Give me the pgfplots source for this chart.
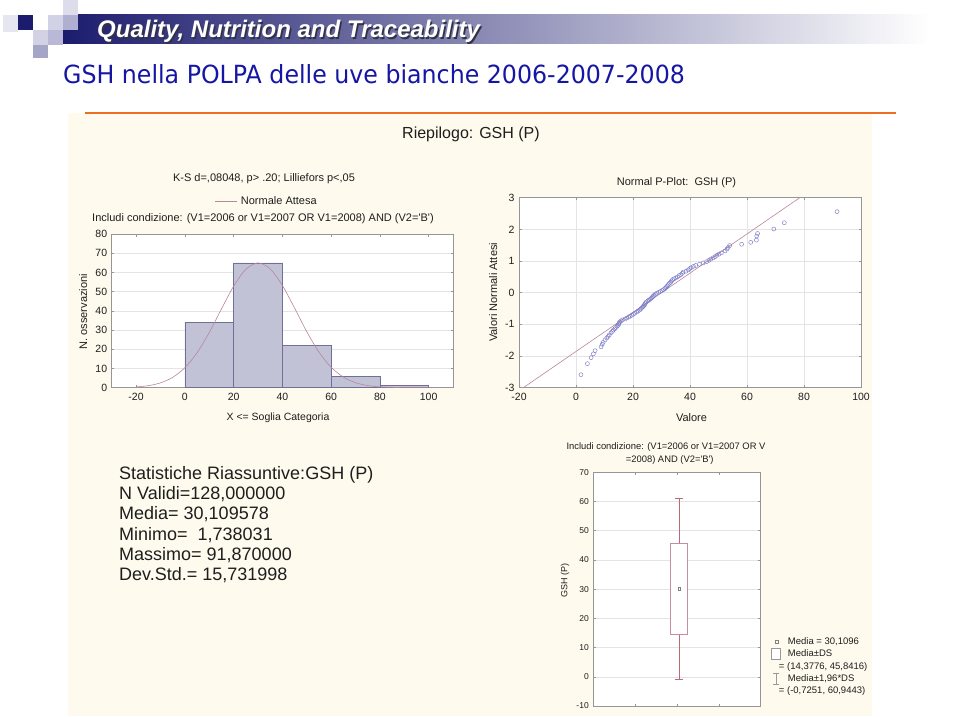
\documentclass[border=0pt]{standalone}
\usepackage{pgfplots}
\pgfplotsset{compat=1.18}
\usepackage{fontspec}
\setmainfont{Liberation Sans}
\newfontfamily\titlefont{DejaVu Sans}
\definecolor{cream}{RGB}{255,250,238}
\definecolor{navy}{RGB}{28,28,110}
\definecolor{bannermid}{RGB}{184,184,206}
\definecolor{sqA}{RGB}{230,230,240}
\definecolor{sqB}{RGB}{210,210,228}
\definecolor{sqC}{RGB}{165,165,200}
\definecolor{sqD}{RGB}{210,210,230}
\definecolor{sqE}{RGB}{185,185,215}
\definecolor{sqF}{RGB}{220,220,235}
\definecolor{sqG}{RGB}{175,175,210}
\definecolor{shadowcol}{RGB}{50,50,70}
\definecolor{titleblue}{RGB}{22,22,165}
\definecolor{orangeline}{RGB}{235,110,35}
\definecolor{barfill}{RGB}{194,194,214}
\definecolor{baredge}{RGB}{112,112,150}
\definecolor{curve}{RGB}{185,135,155}
\definecolor{ptcol}{RGB}{125,125,200}
\definecolor{boxcol}{RGB}{200,140,160}
\definecolor{whiskcol}{RGB}{185,105,120}
\definecolor{axcol}{RGB}{150,150,150}
\definecolor{gridcol}{RGB}{228,228,228}
\definecolor{txt}{RGB}{30,30,30}

\pgfplotsset{
  statstyle/.style={
    scale only axis,
    anchor=south west,
    axis background/.style={fill=white},
    axis line style={draw=axcol, line width=0.6pt},
    tick style={draw=axcol, line width=0.5pt},
    major tick length=2.5pt,
    tick align=inside,
    grid style={draw=gridcol, line width=0.5pt},
    /pgf/number format/assume math mode=true,
    ticklabel style={text=txt},
  }
}

\begin{document}
\begin{tikzpicture}[x=1pt,y=1pt]
% page
\fill[white] (0,0) rectangle (960,716);
% banner
\shade[left color=navy, middle color=bannermid, right color=white] (63,672) rectangle (930,701);
% decoration squares
\fill[sqA] (3,684) rectangle (18,701);
\fill[navy] (18,686) rectangle (33,701);
\fill[sqB] (33,671) rectangle (48,686);
\fill[sqC] (33,658) rectangle (48,671);
\fill[sqD] (48,686) rectangle (63,701);
\fill[sqE] (48,671) rectangle (63,686);
\fill[sqF] (63,701) rectangle (78,716);
\fill[sqG] (63,686) rectangle (78,701);
% banner text
\node[anchor=west, text=shadowcol, font=\fontsize{24}{28}\selectfont\bfseries\itshape, inner sep=0pt] at (98.5,683) {Quality, Nutrition and Traceability};
\node[anchor=west, text=white, font=\fontsize{24}{28}\selectfont\bfseries\itshape, inner sep=0pt] at (97,684.5) {Quality, Nutrition and Traceability};
% title
\node[anchor=base west, text=titleblue, inner sep=0pt] at (63,632.7) {\scalebox{0.948}[1]{\titlefont\fontsize{25}{30}\selectfont GSH nella POLPA delle uve bianche 2006-2007-2008}};
% cream panel
\fill[cream] (68,0) rectangle (872,603);
\draw[orangeline, line width=2pt] (85,603.3) -- (896,603.3);
\node[text=txt, font=\fontsize{16}{19}\selectfont] at (471,582) {Riepilogo: GSH (P)};

% ---------------- histogram ----------------
\begin{axis}[statstyle, at={(111.7pt,328.3pt)}, width=341.3pt, height=153.7pt,
  xmin=-30, xmax=110, ymin=0, ymax=80,
  xtick={-20,0,20,40,60,80,100}, ytick={0,10,20,30,40,50,60,70,80},
  ymajorgrids,
  ticklabel style={font=\fontsize{10.5}{12}\selectfont},
  xticklabel style={yshift=-2pt}, yticklabel style={xshift=-1pt}]
\addplot[ybar interval, fill=barfill, draw=baredge, line width=0.6pt] coordinates {(0,34) (20,65) (40,22) (60,6) (80,1) (100,1)};
\addplot[curve, smooth, line width=0.6pt] coordinates {
(-20,0.41) (-15,1.06) (-10,2.52) (-5,5.38) (0,10.39) (5,18.16) (10,28.69) (15,40.93) (20,52.81) (25,61.59) (30,64.93) (35,61.87) (40,53.28) (45,41.48) (50,29.19) (55,18.57) (60,10.67) (65,5.55) (70,2.61) (75,1.11) (80,0.43) (85,0.15) (90,0.05) (95,0.01) (100,0.0)};
\end{axis}
\node[text=txt, font=\fontsize{11}{13}\selectfont] at (264,537) {K-S d=,08048, p> .20; Lilliefors p<,05};
\draw[curve, line width=0.6pt] (215,515) -- (236.7,515);
\node[anchor=west, text=txt, font=\fontsize{11}{13}\selectfont, inner sep=0pt] at (240.7,515) {Normale Attesa};
\node[text=txt, font=\fontsize{11}{13}\selectfont] at (263,497) {Includi condizione: (V1=2006 or V1=2007 OR V1=2008) AND (V2=\textquotesingle B\textquotesingle)};
\node[text=txt, font=\fontsize{11}{13}\selectfont, rotate=90] at (83.3,404.3) {N. osservazioni};
\node[text=txt, font=\fontsize{10.5}{12}\selectfont] at (278,298.3) {X <= Soglia Categoria};

% ---------------- normal probability plot ----------------
\begin{axis}[statstyle, at={(519pt,328.3pt)}, width=342pt, height=190pt,
  xmin=-20, xmax=100, ymin=-3, ymax=3,
  xtick={-20,0,20,40,60,80,100}, ytick={-3,-2,-1,0,1,2,3},
  xmajorgrids, ymajorgrids,
  ticklabel style={font=\fontsize{10.5}{12}\selectfont},
  xticklabel style={yshift=-2pt}, yticklabel style={xshift=-1pt}]
\addplot[curve, line width=0.6pt] coordinates {(-18.5,-3) (78.5,3)};
\addplot[only marks, mark=o, mark size=2pt, mark options={draw=ptcol, line width=0.45pt}] coordinates {
(1.74,-2.59) (4.0,-2.24) (5.3,-2.05) (6.1,-1.93) (6.7,-1.83) (8.8,-1.71) (9.2,-1.63) (9.5,-1.57)
(10.2,-1.49) (10.8,-1.43) (11.3,-1.38) (11.7,-1.33) (12.3,-1.26) (12.8,-1.22) (13.1,-1.18) (13.6,-1.14)
(13.9,-1.10) (14.4,-1.06) (14.8,-1.03) (15.0,-0.99) (15.1,-0.96) (15.3,-0.93) (15.8,-0.89) (16.3,-0.86)
(17.2,-0.83) (17.8,-0.80) (18.5,-0.77) (19.0,-0.74) (19.6,-0.71) (20.1,-0.68) (20.6,-0.65) (21.3,-0.61)
(21.8,-0.58) (22.3,-0.55) (22.6,-0.52) (23.0,-0.49) (23.4,-0.45) (23.7,-0.42) (24.0,-0.39) (24.2,-0.35)
(24.4,-0.32) (24.7,-0.29) (25.2,-0.26) (25.6,-0.23) (26.1,-0.20) (26.5,-0.17) (26.8,-0.14) (27.1,-0.11)
(27.4,-0.08) (27.8,-0.05) (28.3,-0.02) (29.0,0.01) (29.6,0.04) (30.2,0.07) (30.7,0.10) (31.2,0.13)
(31.5,0.16) (31.8,0.19) (32.1,0.22) (32.4,0.26) (32.8,0.30) (33.2,0.33) (33.5,0.37) (33.9,0.41)
(34.4,0.44) (35.0,0.47) (35.6,0.50) (36.2,0.54) (36.8,0.57) (37.3,0.61) (37.6,0.65) (38.6,0.68)
(39.4,0.72) (39.9,0.76) (40.4,0.79) (41.2,0.83) (42.0,0.86) (43.3,0.90) (44.6,0.94) (45.8,0.98)
(46.6,1.02) (47.3,1.06) (48.1,1.10) (48.8,1.14) (49.4,1.18) (50.2,1.22) (51.0,1.26) (52.3,1.32)
(53.0,1.38) (53.4,1.43) (53.9,1.49) (58.1,1.53) (61.3,1.59) (63.3,1.66) (63.4,1.79) (63.7,1.87)
(69.4,2.01) (73.1,2.21) (91.6,2.56)};
\end{axis}
\node[text=txt, font=\fontsize{11}{13}\selectfont] at (676.5,533.3) {Normal P-Plot:\ \ GSH (P)};
\node[text=txt, font=\fontsize{11}{13}\selectfont, rotate=90] at (493.3,423.7) {Valori Normali Attesi};
\node[text=txt, font=\fontsize{11}{13}\selectfont] at (691.5,298.3) {Valore};

% ---------------- statistics text ----------------
\begin{scope}[every node/.style={anchor=base west, inner sep=0pt, text=txt, font=\fontsize{18}{21}\selectfont}]
\node at (119,236.7) {Statistiche Riassuntive:GSH (P)};
\node at (119,216.4) {N Validi=128,000000};
\node at (119,196.1) {Media= 30,109578};
\node at (119,175.8) {Minimo=\ \ 1,738031};
\node at (119,155.5) {Massimo= 91,870000};
\node at (119,135.2) {Dev.Std.= 15,731998};
\end{scope}

% ---------------- box plot ----------------
\begin{axis}[statstyle, at={(593.3pt,10pt)}, width=167.4pt, height=233.7pt,
  xmin=0, xmax=4, ymin=-10, ymax=70,
  xtick={1,2,3}, xticklabels={},
  ytick={-10,0,10,20,30,40,50,60,70},
  ymajorgrids,
  ticklabel style={font=\fontsize{8.5}{10}\selectfont},
  yticklabel style={xshift=-1pt},
  legend style={at={(rel axis cs:1.063,0.301)}, anchor=north west, draw=none, fill=none,
    font=\fontsize{9.5}{10}\selectfont, row sep=0.75pt, inner sep=0pt,
    nodes={inner ysep=1.6pt, inner xsep=1pt, text=txt},
    /tikz/every odd column/.append style={column sep=6pt}},
  legend cell align=left]
\addplot[forget plot, whiskcol, line width=0.6pt] coordinates {(2.05,45.8416) (2.05,60.9443)};
\addplot[forget plot, whiskcol, line width=0.6pt] coordinates {(2.05,14.3776) (2.05,-0.7251)};
\addplot[forget plot, whiskcol, line width=0.6pt] coordinates {(1.95,60.9443) (2.15,60.9443)};
\addplot[forget plot, whiskcol, line width=0.6pt] coordinates {(1.95,-0.7251) (2.15,-0.7251)};
\addplot[forget plot, draw=boxcol, fill=white, line width=0.6pt] coordinates {(1.85,14.3776) (2.25,14.3776) (2.25,45.8416) (1.85,45.8416)} -- cycle;
\addplot[forget plot, only marks, mark=square, mark size=1.4pt, mark options={draw=gray, line width=0.4pt}] coordinates {(2.05,30.1096)};
\addlegendimage{legend image code/.code={\draw[draw=gray, line width=0.4pt] (3.2pt,-1.4pt) rectangle (6pt,1.4pt);}}
\addlegendentry{Media = 30,1096}
\addlegendimage{legend image code/.code={\draw[draw=gray!80, fill=white, line width=0.5pt] (0pt,-5.5pt) rectangle (9pt,5.5pt);}}
\addlegendentry{Media±DS}
\addlegendimage{empty legend}
\addlegendentry{\hspace{-9pt}= (14,3776, 45,8416)}
\addlegendimage{legend image code/.code={\draw[draw=gray!80, line width=0.5pt] (4.5pt,-5.5pt) -- (4.5pt,5.5pt) (1.5pt,5.5pt) -- (7.5pt,5.5pt) (1.5pt,-5.5pt) -- (7.5pt,-5.5pt);}}
\addlegendentry{Media±1,96*DS}
\addlegendimage{empty legend}
\addlegendentry{\hspace{-9pt}= (-0,7251, 60,9443)}
\end{axis}
\node[text=txt, font=\fontsize{9.4}{11}\selectfont] at (666,269.3) {Includi condizione: (V1=2006 or V1=2007 OR V};
\node[text=txt, font=\fontsize{9.4}{11}\selectfont] at (669.7,256) {=2008) AND (V2=\textquotesingle B\textquotesingle)};
\node[text=txt, font=\fontsize{9}{11}\selectfont, rotate=90] at (565,136) {GSH (P)};
\end{tikzpicture}
\end{document}
